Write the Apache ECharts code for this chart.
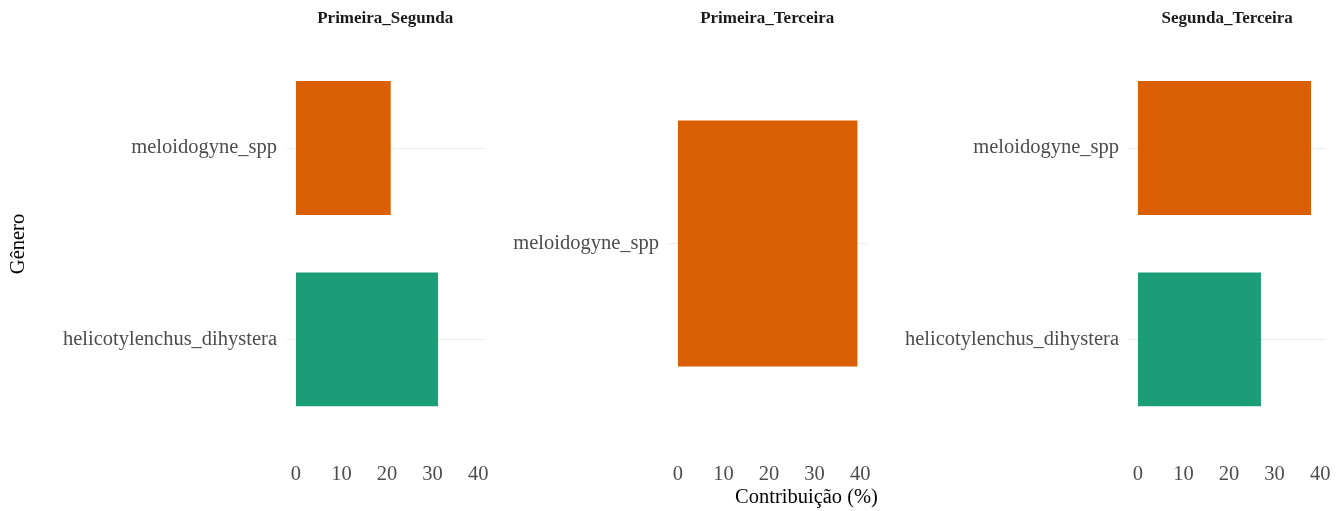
<!DOCTYPE html>
<html>
<head>
<meta charset="utf-8">
<title>Contribuição por gênero</title>
<script src="https://cdn.jsdelivr.net/npm/echarts@6/dist/echarts.min.js"></script>
<style>
  html, body { margin: 0; padding: 0; background: #ffffff; }
  #chart { width: 1340px; height: 511px; }
</style>
</head>
<body>
<div id="chart"></div>
<script>
// Facet names (one panel per comparison)
const panels = ['Primeira_Segunda', 'Primeira_Terceira', 'Segunda_Terceira'];

// Genera and contributions (%) for each comparison, bottom to top
const generaPrimeiraSegunda = ['helicotylenchus_dihystera', 'meloidogyne_spp'];
const valuesPrimeiraSegunda = [31.2, 20.8];

const generaPrimeiraTerceira = ['meloidogyne_spp'];
const valuesPrimeiraTerceira = [39.4];

const generaSegundaTerceira = ['helicotylenchus_dihystera', 'meloidogyne_spp'];
const valuesSegundaTerceira = [27.0, 38.0];

// Tick labels on the shared x axis
const xTicks = [0, 10, 20, 30, 40];

// Fill colour per genus
const genusColors = {
  meloidogyne_spp: '#D95F02',
  helicotylenchus_dihystera: '#1B9E77'
};

const panelData = [
  { genera: generaPrimeiraSegunda, values: valuesPrimeiraSegunda },
  { genera: generaPrimeiraTerceira, values: valuesPrimeiraTerceira },
  { genera: generaSegundaTerceira, values: valuesSegundaTerceira }
];

// Shared x range: data extent expanded by 5% on each side
const maxVal = Math.max(...valuesPrimeiraSegunda, ...valuesPrimeiraTerceira, ...valuesSegundaTerceira);
const xMin = -0.05 * maxVal;
const xMax = 1.05 * maxVal;

// Panel geometry
const panelLeft = [287, 669, 1129];
const panelWidth = 197.4;
const bandTwo = { top: 52.4, height: 382.6 };   // two categories
const bandOne = { top: 67.8, height: 351.4 };   // one category
const tickLabelCenterY = 474;

const FONT = '"Liberation Serif", "Times New Roman", serif';
const FS = 20.5;

const grids = [], xAxes = [], yAxes = [], series = [], stripTexts = [];

panelData.forEach((p, i) => {
  const band = p.genera.length === 1 ? bandOne : bandTwo;
  grids.push({
    left: panelLeft[i],
    width: panelWidth,
    top: band.top,
    height: band.height,
    containLabel: false
  });
  const gridBottom = band.top + band.height;
  xAxes.push({
    type: 'value',
    gridIndex: i,
    min: xMin,
    max: xMax,
    axisLine: { show: false },
    axisTick: { show: false },
    splitLine: { show: false },
    axisLabel: {
      customValues: xTicks,
      margin: tickLabelCenterY - 10 - gridBottom,
      color: '#4D4D4D',
      fontFamily: FONT,
      fontSize: FS
    }
  });
  yAxes.push({
    type: 'category',
    gridIndex: i,
    data: p.genera,
    axisLine: { show: false },
    axisTick: { show: false },
    splitLine: { show: false },
    axisLabel: {
      margin: 10,
      color: '#4D4D4D',
      fontFamily: FONT,
      fontSize: FS
    }
  });
  series.push({
    type: 'bar',
    xAxisIndex: i,
    yAxisIndex: i,
    barWidth: '70%',
    z: 3,
    data: p.values.map((v, k) => ({
      value: v,
      itemStyle: { color: genusColors[p.genera[k]] }
    })),
    markLine: {
      silent: true,
      z: 1,
      symbol: ['none', 'none'],
      label: { show: false },
      lineStyle: { color: '#EBEBEB', width: 1.1, type: 'solid' },
      emphasis: { disabled: true },
      data: p.genera.map(g => ({ yAxis: g }))
    }
  });
  // facet strip label
  stripTexts.push({
    type: 'text',
    x: panelLeft[i] + panelWidth / 2 - 0.5,
    y: 19,
    style: {
      text: panels[i],
      fontFamily: FONT,
      fontWeight: 'bold',
      fontSize: 17,
      fill: '#1A1A1A',
      textAlign: 'center',
      textVerticalAlign: 'middle'
    }
  });
});

const chart = echarts.init(document.getElementById('chart'), null, { renderer: 'canvas' });
chart.setOption({
  animation: false,
  backgroundColor: '#ffffff',
  grid: grids,
  xAxis: xAxes,
  yAxis: yAxes,
  series: series,
  graphic: stripTexts.concat([
    {
      type: 'text',
      x: 806.5,
      y: 498,
      style: {
        text: 'Contribuição (%)',
        fontFamily: FONT,
        fontSize: FS,
        fill: '#000000',
        textAlign: 'center',
        textVerticalAlign: 'middle'
      }
    },
    {
      type: 'text',
      x: 19,
      y: 244,
      rotation: Math.PI / 2,
      style: {
        text: 'Gênero',
        fontFamily: FONT,
        fontSize: FS,
        fill: '#000000',
        textAlign: 'center',
        textVerticalAlign: 'middle'
      }
    }
  ])
});
</script>
</body>
</html>
